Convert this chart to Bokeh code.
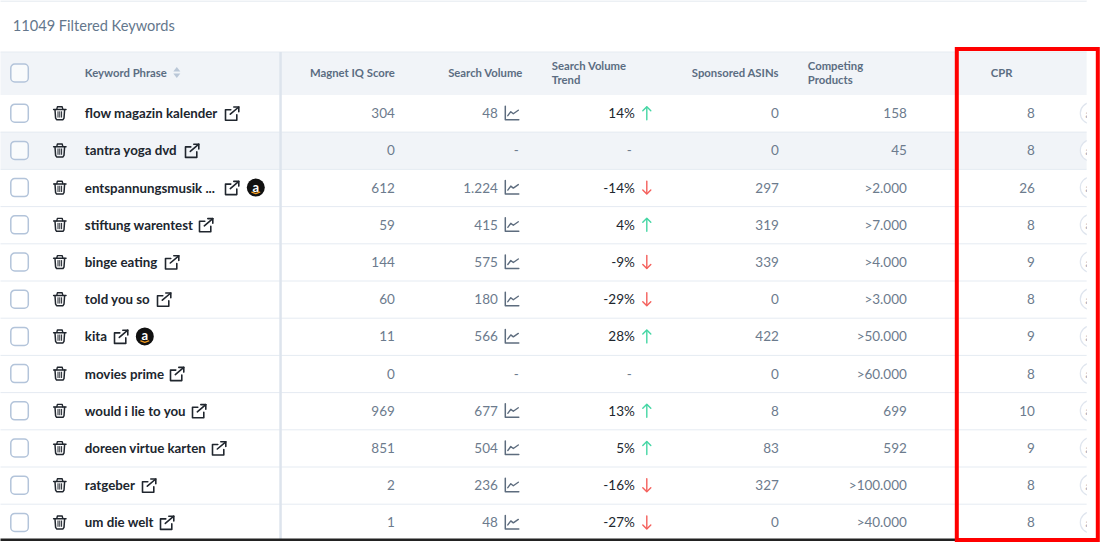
#keyword table with the CPR column marked
from bokeh.plotting import figure
from bokeh.embed import file_html
from bokeh.resources import INLINE
from bokeh.models import ColumnDataSource
from bokeh.core.properties import value

title = "11049 Filtered Keywords"
keywords = ["flow magazin kalender", "tantra yoga dvd", "entspannungsmusik ...", "stiftung warentest",
            "binge eating", "told you so", "kita", "movies prime", "would i lie to you",
            "doreen virtue karten", "ratgeber", "um die welt"]
scores = [304, 0, 612, 59, 144, 60, 11, 0, 969, 851, 2, 1]
volumes = ["48", "-", "1.224", "415", "575", "180", "566", "-", "677", "504", "236", "48"]
trends = [14, None, -14, 4, -9, -29, 28, None, 13, 5, -16, -27]
asins = [0, 0, 297, 319, 339, 0, 422, 0, 8, 83, 327, 0]
competing = ["158", "45", ">2.000", ">7.000", ">4.000", ">3.000", ">50.000", ">60.000", "699", "592", ">100.000", ">40.000"]
cpr = [8, 8, 26, 8, 9, 8, 9, 8, 10, 9, 8, 8]
amazon = [False, False, True, False, False, False, True, False, False, False, False, False]

#layout in pixels
link_x = [225, 185, 225, 199, 165, 157, 114, 170, 192, 212, 142, 160]
amazon_x = {2: 256, 6: 145}
row_top = 95
row_h = 37.2
bottom = 539
right = 1087
rows = [row_top - 0.4 + row_h * (i + 0.5) for i in range(12)]

FONT = "Lato"
HEAD = "#5b6d82"
NUM = "#6c7b8d"
DARK = "#20262e"
ICON = "#5d6c7e"

p = figure(width=1101, height=543, x_range=(0.7, 1101.7), y_range=(543.5, 0.5), output_backend="svg",
           toolbar_location=None, min_border=0, margin=(0, 0, 0, 0))
p.axis.visible = False
p.grid.visible = False
p.outline_line_color = None

#backgrounds and rules
p.quad(left=[0], right=[right], top=[52], bottom=[row_top], color="#f1f4f8", line_color=None)
p.quad(left=[0], right=[right], top=[rows[1] - row_h / 2], bottom=[rows[1] + row_h / 2], color="#f1f4f8", line_color=None)
p.segment(x0=[0], x1=[right], y0=[0.9], y1=[0.9], color="#e6ebf1", line_width=1.5)
p.segment(x0=[0], x1=[right], y0=[52], y1=[52], color="#e6ebf1", line_width=1)
for i in range(1, 12):
    p.segment(x0=[0], x1=[right], y0=[row_top + row_h * i], y1=[row_top + row_h * i], color="#e5ebf2", line_width=1)
p.quad(left=[279.5], right=[282], top=[52], bottom=[bottom], color="#dde4ed", line_color=None)
p.segment(x0=[0], x1=[957], y0=[bottom + 0.7], y1=[bottom + 0.7], color="#222222", line_width=2.5)


def label(xs, ys, texts, color=NUM, align="right", size="13.5px", style="normal"):
    colors = color if isinstance(color, list) else [color] * len(texts)
    src = ColumnDataSource(dict(x=xs, y=ys, t=texts, c=colors))
    p.text(x="x", y="y", text="t", source=src, text_color="c", text_align=align, text_baseline="middle",
           text_font=value(FONT), text_font_size=size, text_font_style=style)


def poly(xs, ys, color=DARK, width=1.5):
    p.line(xs, ys, line_color=color, line_width=width, line_cap="round", line_join="round")


#title and header
label([13], [25], [title], color="#64778c", align="left", size="14.6px")
label([85], [72.5], ["Keyword Phrase"], color=HEAD, align="left", size="11.3px", style="bold")
label([395, 523, 779], [72.5, 72.5, 72.5], ["Magnet IQ Score", "Search Volume", "Sponsored ASINs"], color=HEAD, size="11.3px", style="bold")
label([552, 552, 808, 808, 991], [65, 79.5, 65, 79.5, 72.5], ["Search Volume", "Trend", "Competing", "Products", "CPR"],
      color=HEAD, align="left", size="11.3px", style="bold")
p.patches([[173.5, 177, 180.5], [173.5, 177, 180.5]], [[71.5, 67, 71.5], [73.5, 78, 73.5]], color="#bac7d7", line_color=None)

#check boxes
box_y = [73] + rows
p.quad(left=[11] * 13, right=[28.5] * 13, top=[y - 9 for y in box_y], bottom=[y + 9 for y in box_y],
       fill_color="#ffffff", fill_alpha=0.6, line_color="#b3c4da", line_width=1.5, border_radius=4)

#table columns
label([85] * 12, rows, keywords, color=DARK, align="left", size="13.3px", style="bold")
label([395] * 12, rows, [str(v) for v in scores])
vol_x = [498 if v != "-" else 519 for v in volumes]
label(vol_x, rows, volumes)
trend_x = [635 if t is not None else 632 for t in trends]
trend_txt = ["%d%%" % t if t is not None else "-" for t in trends]
trend_col = [DARK if t is not None else NUM for t in trends]
label(trend_x, rows, trend_txt, color=trend_col)
label([779] * 12, rows, [str(v) for v in asins])
label([907] * 12, rows, competing)
label([1035] * 12, rows, [str(v) for v in cpr])

#row icons
for i, y in enumerate(rows):
    #trash can
    poly([53.8, 66.2], [y - 3.7, y - 3.7], DARK, 1.5)
    poly([57, 57.6, 62.4, 63], [y - 4, y - 6.4, y - 6.4, y - 4], DARK, 1.4)
    poly([55.2, 55.8, 56.8, 63.2, 64.2, 64.8], [y - 3.5, y + 5, y + 6.5, y + 6.5, y + 5, y - 3.5], DARK, 1.5)
    for dx in [58.2, 60, 61.8]:
        poly([dx, dx], [y - 1.5, y + 4], DARK, 1)

    #external link
    lx = link_x[i]
    poly([lx + 6, lx + 0.7, lx + 0.7, lx + 12, lx + 12], [y - 3.5, y - 3.5, y + 7, y + 7, y + 1.5], DARK, 1.6)
    poly([lx + 5.5, lx + 14], [y + 1, y - 6.2], DARK, 1.6)
    poly([lx + 9, lx + 14, lx + 14], [y - 6.2, y - 6.2, y - 1.5], DARK, 1.6)

    if amazon[i]:
        ax = amazon_x[i]
        p.circle(x=[ax], y=[y], radius=9, fill_color="#111111", line_color=None)
        label([ax], [y - 1], ["a"], color="#ffffff", align="center", size="13px", style="bold")
        poly([ax - 4, ax, ax + 4], [y + 4.5, y + 6, y + 4.5], "#f39a1e", 1.2)

    #small trend chart next to the volume
    if volumes[i] != "-":
        poly([505.5, 505.5, 519], [y - 7, y + 6.5, y + 6.5], ICON, 1.5)
        poly([508, 511, 513.5, 518.5], [y + 2.5, y - 1.5, y + 0.5, y - 3], ICON, 1.4)

    #arrow of the trend
    if trends[i] is not None:
        if trends[i] > 0:
            poly([647, 647], [y + 6.5, y - 6], "#45d6a4", 1.4)
            poly([643, 647, 651], [y - 2.5, y - 6.5, y - 2.5], "#45d6a4", 1.4)
        else:
            poly([647, 647], [y - 6.5, y + 6], "#f4605c", 1.4)
            poly([643, 647, 651], [y + 2.5, y + 6.5, y + 2.5], "#f4605c", 1.4)

#round buttons cut off by the edge of the table
p.circle(x=[1091] * 12, y=rows, radius=10.5, fill_color="#ffffff", line_color="#dfe5ee", line_width=1.2)
label([1088.5] * 12, rows, ["a"] * 12, color="#8fa0b5", align="center", size="11px", style="bold")
p.quad(left=[right], right=[1102], top=[0], bottom=[544], color="#ffffff", line_color=None)

#red box around the CPR column
p.quad(left=[957], right=[1098], top=[49], bottom=[540], fill_color=None, line_color="#ff0000", line_width=4, line_join="miter")

open("out.html", "w").write(file_html(p, INLINE))
